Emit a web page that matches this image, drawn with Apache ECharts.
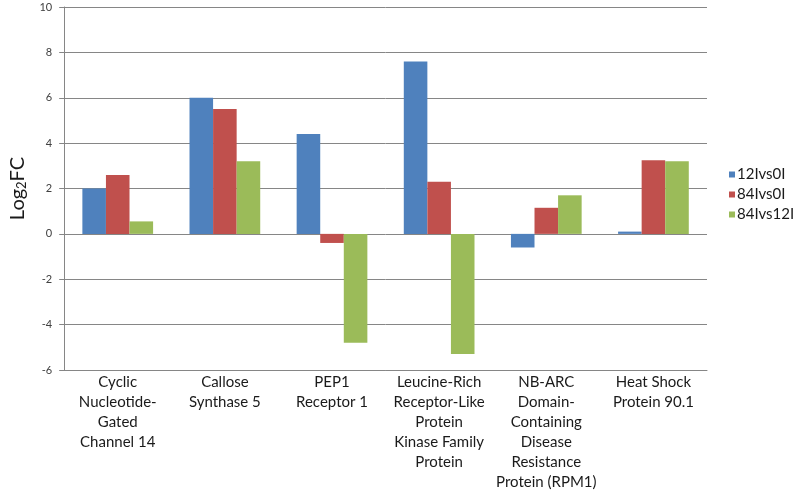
<!DOCTYPE html>
<html><head><meta charset="utf-8">
<script src="https://cdn.jsdelivr.net/npm/echarts@6/dist/echarts.min.js"></script>
<style>html,body{margin:0;padding:0;background:#fff}#c{width:796px;height:492px}</style>
</head><body><div id="c"></div>
<script>
var categories = [
  'Cyclic\nNucleotide-\nGated\nChannel 14',
  'Callose\nSynthase 5',
  'PEP1\nReceptor 1',
  'Leucine-Rich\nReceptor-Like\nProtein\nKinase Family\nProtein',
  'NB-ARC\nDomain-\nContaining\nDisease\nResistance\nProtein (RPM1)',
  'Heat Shock\nProtein 90.1'
];
var seriesNames = ['12Ivs0I', '84Ivs0I', '84Ivs12I'];
var s12Ivs0I = [2.0, 6.0, 4.4, 7.6, -0.6, 0.1];
var s84Ivs0I = [2.6, 5.5, -0.4, 2.3, 1.15, 3.25];
var s84Ivs12I = [0.55, 3.2, -4.8, -5.3, 1.7, 3.2];
var yTicks = {min: -6, max: 10, interval: 2};
var colors = ['#4F81BD', '#C0504D', '#9BBB59'];
var FONT = 'Lato, "Open Sans", sans-serif';

var chart = echarts.init(document.getElementById('c'), null, {renderer: 'canvas'});
var data = [s12Ivs0I, s84Ivs0I, s84Ivs12I];
chart.setOption({
  animation: false,
  color: colors,
  grid: {left: 52, right: 89, top: 7, bottom: 121, containLabel: false},
  legend: {
    orient: 'vertical', left: 724, top: 162,
    icon: 'rect', itemWidth: 6, itemHeight: 6, itemGap: 5,
    textStyle: {fontFamily: FONT, fontSize: 15, color: '#1a1a1a', padding: [0,0,0,-3]},
    data: seriesNames
  },
  xAxis: {
    type: 'category', data: categories,
    axisLine: {onZero: false, lineStyle: {color: '#868686', width: 1}},
    axisTick: {show: false},
    axisLabel: {interval: 0, fontFamily: FONT, fontSize: 15, lineHeight: 20, color: '#1a1a1a', margin: 2, verticalAlign: 'top'}
  },
  yAxis: {
    type: 'value', min: yTicks.min, max: yTicks.max, interval: yTicks.interval,
    name: '{a|Log}{b|2}{a|FC}',
    nameLocation: 'middle', nameRotate: 90, nameGap: 18,
    nameTextStyle: {
      rich: {
        a: {fontFamily: FONT, fontSize: 20, color: '#1a1a1a'},
        b: {fontFamily: FONT, fontSize: 13, color: '#1a1a1a', verticalAlign: 'bottom', padding: [8,0,0,0]}
      }
    },
    axisLine: {show: true, lineStyle: {color: '#868686', width: 1}},
    axisTick: {show: true, length: 5, lineStyle: {color: '#868686'}},
    splitLine: {show: true, lineStyle: {color: '#868686', width: 1}},
    axisLabel: {fontFamily: FONT, fontSize: 11, color: '#404040', margin: 12}
  },
  series: seriesNames.map(function(n, i){
    return {name: n, type: 'bar', data: data[i], barGap: '0%', barCategoryGap: '34%'};
  })
});
</script></body></html>
